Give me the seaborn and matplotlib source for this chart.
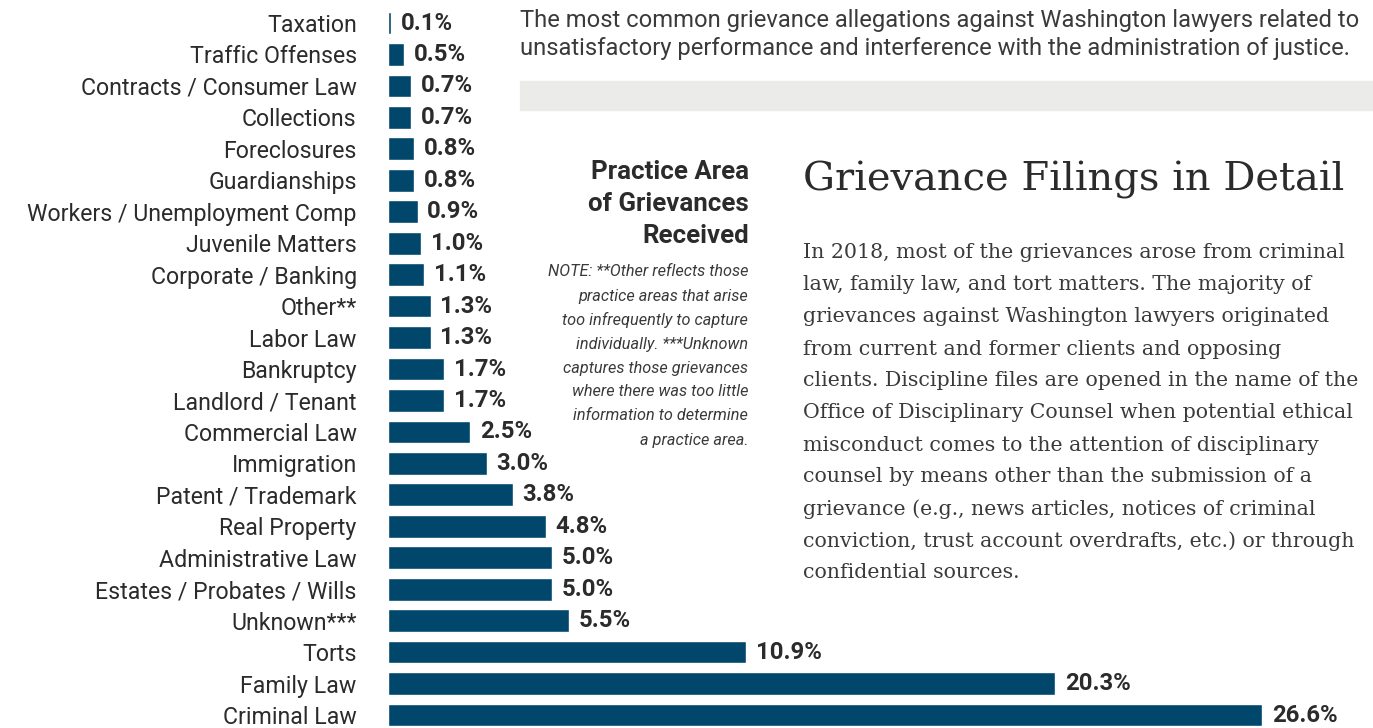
import pandas as pd
import seaborn as sns
import matplotlib.pyplot as plt

areas = [
    "Taxation", "Traffic Offenses", "Contracts / Consumer Law", "Collections",
    "Foreclosures", "Guardianships", "Workers / Unemployment Comp",
    "Juvenile Matters", "Corporate / Banking", "Other**", "Labor Law",
    "Bankruptcy", "Landlord / Tenant", "Commercial Law", "Immigration",
    "Patent / Trademark", "Real Property", "Administrative Law",
    "Estates / Probates / Wills", "Unknown***", "Torts", "Family Law",
    "Criminal Law",
]
shares = [0.1, 0.5, 0.7, 0.7, 0.8, 0.8, 0.9, 1.0, 1.1, 1.3, 1.3, 1.7, 1.7,
          2.5, 3.0, 3.8, 4.8, 5.0, 5.0, 5.5, 10.9, 20.3, 26.6]

intro_lines = [
    "The most common grievance allegations against Washington lawyers related to",
    "unsatisfactory performance and interference with the administration of justice.",
]
side_title = ["Practice Area", "of Grievances", "Received"]
note_lines = [
    "NOTE: **Other reflects those",
    "practice areas that arise",
    "too infrequently to capture",
    "individually. ***Unknown",
    "captures those grievances",
    "where there was too little",
    "information to determine",
    "a practice area.",
]
heading = "Grievance Filings in Detail"
body_lines = [
    "In 2018, most of the grievances arose from criminal",
    "law, family law, and tort matters. The majority of",
    "grievances against Washington lawyers originated",
    "from current and former clients and opposing",
    "clients. Discipline files are opened in the name of the",
    "Office of Disciplinary Counsel when potential ethical",
    "misconduct comes to the attention of disciplinary",
    "counsel by means other than the submission of a",
    "grievance (e.g., news articles, notices of criminal",
    "conviction, trust account overdrafts, etc.) or through",
    "confidential sources.",
]

W, H = 1373, 728
BAR = "#00476b"
INK = "#2b2b2b"

sns.set_theme(style="white")
plt.rcParams["font.family"] = ["Roboto", "DejaVu Sans"]

df = pd.DataFrame({"area": areas, "share": shares})

fig = plt.figure(figsize=(W / 100, H / 100), dpi=100)
x0 = 388
ax = fig.add_axes([x0 / W, 0, (W - x0) / W, 1])
sns.barplot(data=df, x="share", y="area", color=BAR, saturation=1,
            width=0.72, ax=ax)

# row pitch and first row centre, in pixels
pitch = (715 - 23) / (len(areas) - 1)
top = -23 / pitch
ax.set_ylim(top + H / pitch, top)
ax.set_xlim(0, (W - x0) / 32.86)
sns.despine(ax=ax, left=True, bottom=True)
ax.set_xlabel("")
ax.set_ylabel("")
ax.set_xticks([])
ax.tick_params(axis="y", length=0, pad=22.5, labelsize=16.7, labelcolor=INK)

ax.bar_label(ax.containers[0], labels=[f"{v:.1f}%" for v in shares],
             padding=7, fontsize=17.2, fontweight="bold", color=INK)


def px(x, y):
    return x / W, 1 - y / H


for i, line in enumerate(intro_lines):
    fig.text(*px(520, 20 + 28 * i), line, fontsize=17.1, color="#3a3a3a",
             va="center", ha="left")

fig.patches.append(plt.Rectangle(px(520, 110), (W - 520) / W, 29 / H,
                                 transform=fig.transFigure,
                                 color="#ebebea", zorder=0))

for i, line in enumerate(side_title):
    fig.text(*px(749, 172 + 32 * i), line, fontsize=18.6, fontweight="bold",
             color=INK, va="center", ha="right")

for i, line in enumerate(note_lines):
    fig.text(*px(748, 272 + 24 * i), line, fontsize=11.7, style="italic",
             color="#3a3a3a", va="center", ha="right")

fig.text(*px(803, 180), heading, fontsize=28.8, color=INK,
         family="DejaVu Serif", va="center", ha="left")

for i, line in enumerate(body_lines):
    fig.text(*px(803, 253 + 32 * i), line, fontsize=14.8, color="#3a3a3a",
             family="DejaVu Serif", va="center", ha="left")

fig.savefig("out.png", dpi=100)
